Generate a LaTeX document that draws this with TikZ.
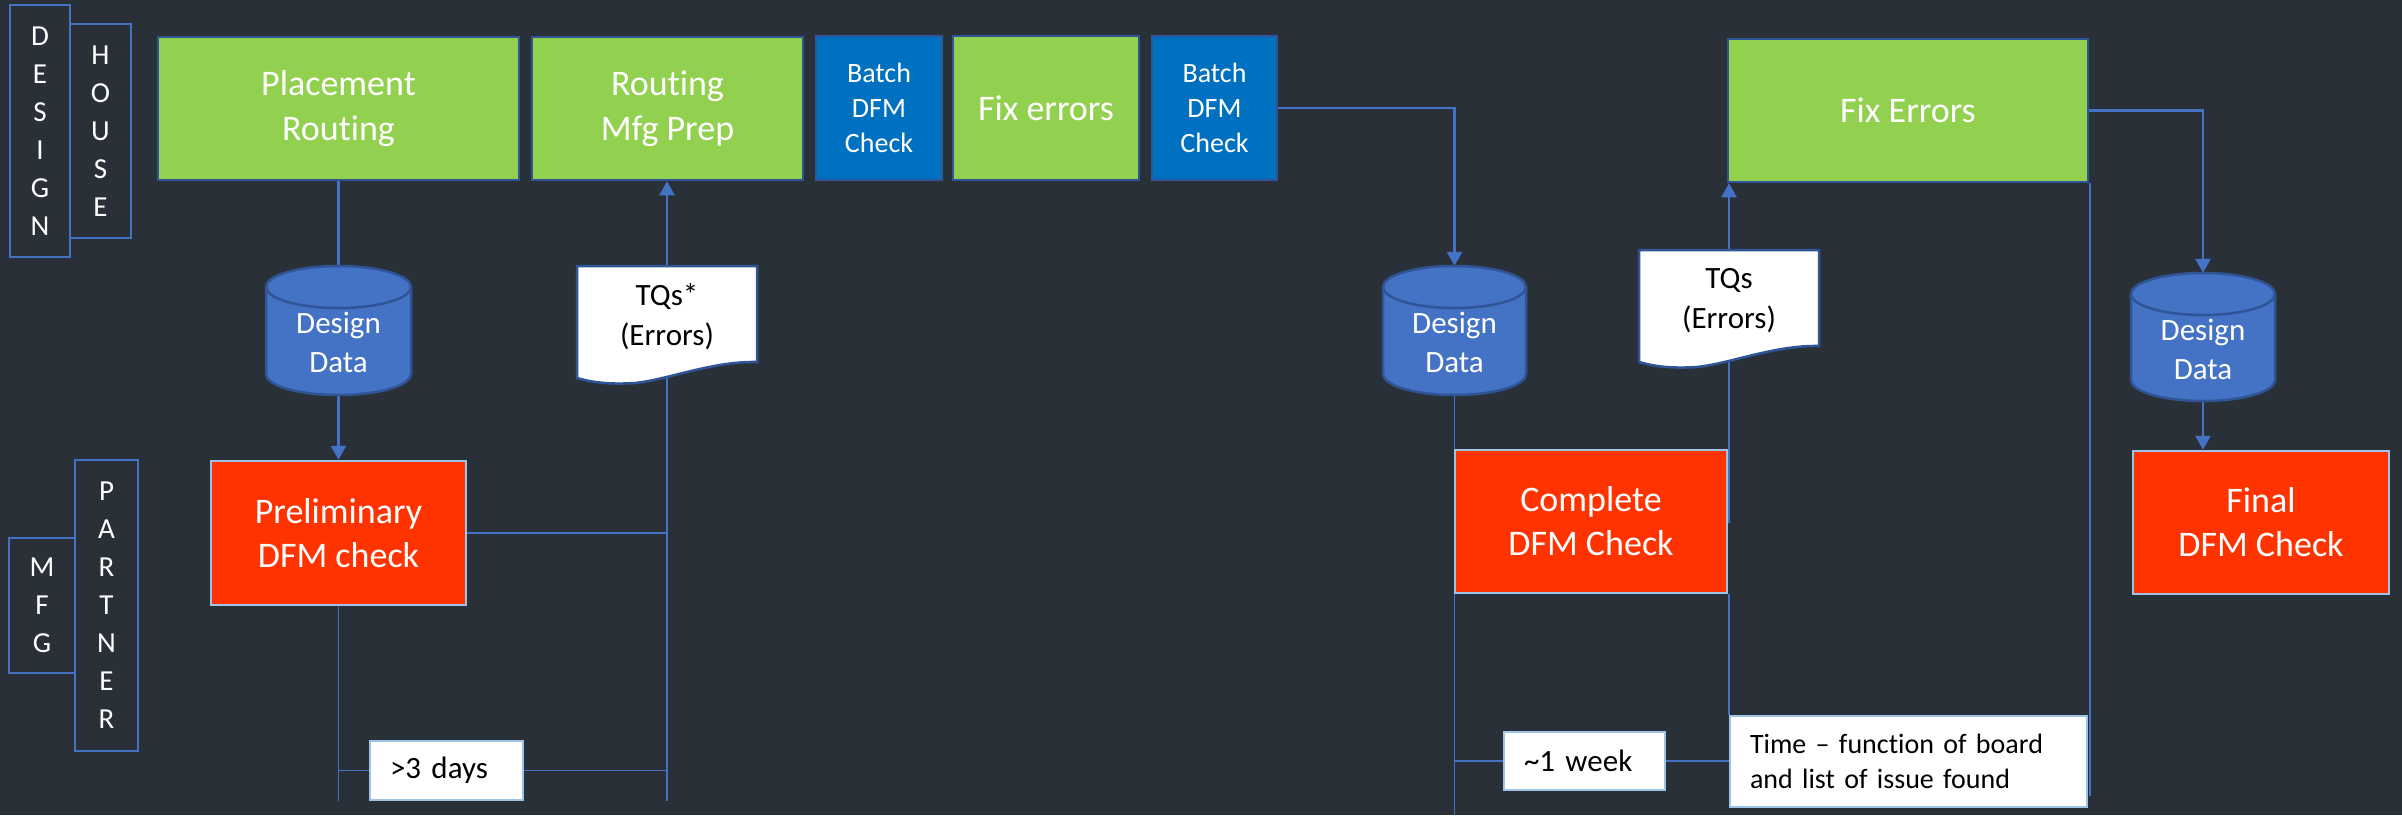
\documentclass[tikz,border=0pt]{standalone}
\usepackage{fontspec}
\setmainfont{Carlito}[Ligatures={NoCommon}]
\usetikzlibrary{arrows.meta,calc}
\definecolor{bgc}{HTML}{2A3038}
\definecolor{grn}{HTML}{92D050}
\definecolor{bbl}{HTML}{0070C0}
\definecolor{dbl}{HTML}{2F5597}
\definecolor{lbl}{HTML}{4472C4}
\definecolor{pbl}{HTML}{9DC3E6}
\definecolor{rd}{HTML}{FF3300}
\pgfdeclarelayer{bglayer}
\pgfdeclarelayer{linelayer}
\pgfsetlayers{bglayer,linelayer,main}
\tikzset{
 wh/.style 2 args={minimum width=#1pt, minimum height=#2pt},
 box/.style={draw=dbl, line width=2.5pt, inner sep=0pt, align=center, text=white},
 greenbox/.style={box, fill=grn, font=\fontsize{36}{45}\selectfont},
 bluebox/.style={box, fill=bbl, font=\fontsize{28}{35}\selectfont},
 redbox/.style={box, draw=pbl, fill=rd, font=\fontsize{36}{44}\selectfont},
 lane/.style={draw=lbl, line width=2.5pt, fill=bgc, inner sep=0pt, align=center, text=white, font=\fontsize{29}{38}\selectfont},
 whitebox/.style={draw=pbl, line width=2.5pt, fill=white, inner sep=0pt, align=left, text=black, font=\fontsize{31}{38}\selectfont},
 ghost/.style={inner sep=0pt},
 cyltext/.style={text=white, align=center, font=\fontsize{31}{39}\selectfont, inner sep=0pt},
 doctext/.style={text=black, align=center, font=\fontsize{31}{40}\selectfont, inner sep=0pt},
 conn/.style={draw=lbl, line width=2.5pt},
 arr/.style={conn, -{Triangle[width=15pt,length=14pt]}},
 tline/.style={draw=lbl, line width=1.5pt},
 cylshape/.style={fill=lbl, draw=dbl, line width=2.5pt},
 docshape/.style={fill=white, draw=dbl, line width=2.5pt},
}
% cylinder: x1, x2, ytop, ybottom
\newcommand\cylpath[4]{%
 \filldraw[cylshape] (#1,{#3+21}) -- (#1,{#4-21})
   arc[start angle=180,end angle=360,x radius={(#2-#1)/2*1pt},y radius=21pt]
   -- (#2,{#3+21})
   arc[start angle=0,end angle=180,x radius={(#2-#1)/2*1pt},y radius=21pt] -- cycle;
 \draw[cylshape,fill=none] (#1,{#3+21})
   arc[start angle=180,end angle=360,x radius={(#2-#1)/2*1pt},y radius=21pt];
}
% document: x1, x2, ytop, ybottom
\newcommand\docpath[4]{%
 \filldraw[docshape] (#1,#3) -- (#2,#3) -- (#2,{#4-21})
   .. controls ({#1+0.75*(#2-#1)},{#4-22}) and ({#1+0.5*(#2-#1)},{#4-3}) .. ({#1+0.32*(#2-#1)},#4)
   .. controls ({#1+0.15*(#2-#1)},{#4+2}) and ({#1+0.06*(#2-#1)},{#4-2}) .. (#1,{#4-5}) -- cycle;
}
\begin{document}
\begin{tikzpicture}[x=1pt,y=-1pt]
\begin{pgfonlayer}{bglayer}
\fill[bgc] (0,0) rectangle (2402,815);
\end{pgfonlayer}
\useasboundingbox (0,0) rectangle (2402,815);

% lane labels
\node[lane,wh={60}{252}] (design) at (40,131) {D\\E\\S\\I\\G\\N};
\node[lane,wh={61}{214}] (house) at (100.5,131) {H\\O\\U\\S\\E};
\node[lane,wh={66}{135}] (mfg) at (42,605.5) {M\\F\\G};
\node[lane,wh={63}{291}] (partner) at (106.5,605.5) {P\\A\\R\\T\\N\\E\\R};

% top row
\node[greenbox,wh={361}{143}] (place) at (338.5,108.5) {Placement\\Routing};
\node[greenbox,wh={271}{143}] (routing) at (667.5,108.5) {Routing\\Mfg Prep};
\node[bluebox,wh={126}{144}] (batch1) at (879,108) {Batch\\DFM\\Check};
\node[greenbox,wh={186}{144}] (fix1) at (1046,108) {Fix errors};
\node[bluebox,wh={125}{144}] (batch2) at (1214.5,108) {Batch\\DFM\\Check};
\node[greenbox,wh={360}{143}] (fix2) at (1908,110.5) {Fix Errors};

% cylinders
\node[ghost,wh={145}{129}] (cyl1) at (338.5,330.5) {};
\node[ghost,wh={143}{129}] (cyl2) at (1454.5,330.5) {};
\node[ghost,wh={144}{128}] (cyl3) at (2203,337) {};
\cylpath{266}{411}{266}{395}
\cylpath{1383}{1526}{266}{395}
\cylpath{2131}{2275}{273}{401}
\node[cyltext] (cyl1t) at (338.5,342.5) {Design\\Data};
\node[cyltext] (cyl2t) at (1454.5,342.5) {Design\\Data};
\node[cyltext] (cyl3t) at (2203,349) {Design\\Data};

% documents
\node[ghost,wh={180}{117}] (tq1) at (667,324.5) {};
\node[ghost,wh={180}{117}] (tq2) at (1729,308.5) {};
\docpath{577}{757}{266}{383}
\docpath{1639}{1819}{250}{367}
\node[doctext] (tq1t) at (667,317) {TQs*\\(Errors)};
\node[doctext] (tq2t) at (1729,301) {TQs\\(Errors)};

% red boxes
\node[redbox,wh={255}{144}] (prelim) at (338.5,533) {Preliminary\\DFM check};
\node[redbox,wh={272}{143}] (complete) at (1591,521.5) {Complete\\DFM Check};
\node[redbox,wh={256}{143}] (final) at (2261,522.5) {Final\\DFM Check};

% white boxes
\node[whitebox,wh={153}{59},text width=113pt] (days) at (446.5,770.5) {>3 days};
\node[whitebox,wh={161}{58},text width=121pt] (week) at (1584.5,761) {\textasciitilde1 week};
\node[whitebox,wh={357}{91},font=\fontsize{28}{35}\selectfont,text width=317pt] (time) at (1908.5,761.5) {Time – function of board\\and list of issue found};

\coordinate (e1) at (338.5,801);
\coordinate (e2) at (667,801);
\coordinate (e3) at (1454.5,815);
\coordinate (e4) at (2090,796);

\begin{pgfonlayer}{linelayer}
\draw[conn] (place.south) -- (cyl1.north);
\draw[arr] (cyl1.south) -- (prelim.north);
\draw[conn] (prelim.east) -| (tq1.center);
\draw[arr] (tq1.north) -- (tq1.north |- routing.south);
\draw[arr] (batch2.east) -| (cyl2.north);
\draw[conn] (complete.east) -| (tq2.center);
\draw[arr] (tq2.north) -- (tq2.north |- fix2.south);
\draw[arr] (fix2.east) -| (cyl3.north);
\draw[arr] (cyl3.south) -- (cyl3.south |- final.north);
\draw[tline] (prelim.south) -- (e1);
\draw[tline] (tq1.center |- prelim.east) -- (e2);
\draw[tline] (days.west) -- (days.west -| prelim.south);
\draw[tline] (days.east) -- (days.east -| tq1.center);
\draw[tline] (cyl2.south) -- (e3);
\draw[tline] (week.west) -- (week.west -| cyl2.south);
\draw[tline] (week.east) -- (week.east -| time.west);
\draw[tline] (tq2.center |- complete.south) -- (tq2.center |- time.north);
\draw[tline] (e4 |- fix2.south) -- (e4);
\end{pgfonlayer}
\end{tikzpicture}
\end{document}
